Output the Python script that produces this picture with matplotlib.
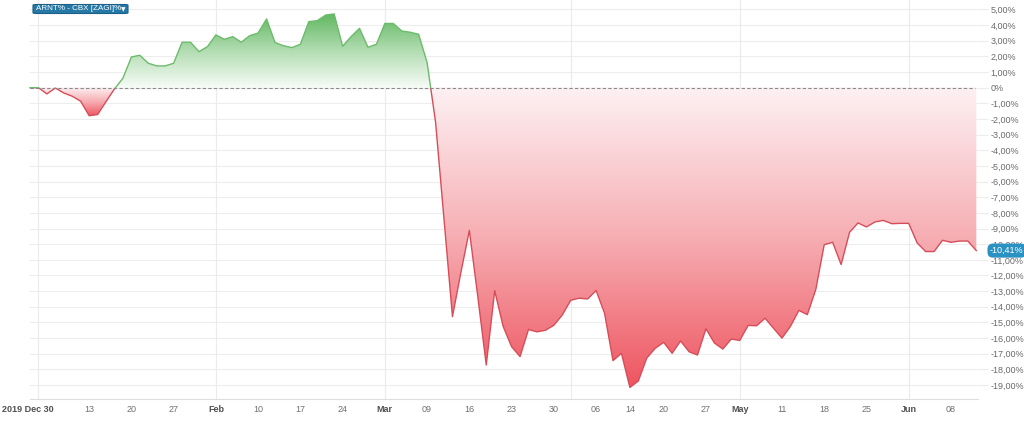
import numpy as np
import matplotlib
matplotlib.use("Agg")
import matplotlib.pyplot as plt
from matplotlib.patches import PathPatch, Rectangle, FancyBboxPatch
from matplotlib.path import Path
from matplotlib.colors import LinearSegmentedColormap
import matplotlib.transforms as mtransforms

plt.rcParams['font.family'] = ['Liberation Sans', 'DejaVu Sans']

# ---- data (relative performance, %) one value per trading day from 2020-01-02 ----
values = [
    0.00, 0.00, -0.40, -0.02, -0.34, -0.55, -0.87, -1.79, -1.72, -0.89,
    -0.08, 0.60, 1.96, 2.07, 1.56, 1.39, 1.39, 1.56, 2.90, 2.90,
    2.30, 2.62, 3.37, 3.09, 3.26, 2.90, 3.32, 3.49, 4.39, 2.88,
    2.68, 2.56, 2.77, 4.22, 4.28, 4.64, 4.71, 2.64, 3.26, 3.79,
    2.58, 2.77, 4.10, 4.10, 3.62, 3.54, 3.41, 1.60, -2.20, -8.40,
    -14.63, -11.80, -9.12, -13.35, -17.72, -12.97, -15.25, -16.55, -17.18, -15.45,
    -15.60, -15.50, -15.18, -14.52, -13.58, -13.45, -13.50, -12.96, -14.40, -17.44,
    -16.97, -19.15, -18.74, -17.27, -16.65, -16.27, -16.97, -16.18, -16.87, -17.08,
    -15.40, -16.31, -16.70, -16.06, -16.15, -15.19, -15.21, -14.73, -15.37, -16.00,
    -15.25, -14.23, -14.50, -12.90, -10.03, -9.88, -11.30, -9.24, -8.64, -8.90,
    -8.58, -8.48, -8.69, -8.67, -8.67, -9.92, -10.47, -10.47, -9.75, -9.88,
    -9.80, -9.80, -10.41,
]
tick_idx = [7, 12, 17, 22, 27, 32, 37, 42, 47, 52, 57, 62, 67, 71, 75, 80, 84, 89, 94, 99, 104, 109]
tick_labels = ["13", "20", "27", "Feb", "10", "17", "24", "Mar", "09", "16", "23", "30",
               "06", "14", "20", "27", "May", "11", "18", "25", "Jun", "08"]
bold_labels = ["Feb", "Mar", "May", "Jun"]
first_label = "2019 Dec 30"
month_lines = [1, 22, 42, 64, 84, 104]
yticks = list(range(5, -20, -1))
series_label = "ARNT% - CBX [ZAGI]%"
last_label = "-10,41%"

W, H = 1024, 422
fig = plt.figure(figsize=(W / 100, H / 100), dpi=100)
ax = fig.add_axes([30 / W, 23 / H, 948 / W, 399 / H])
x = np.arange(len(values))
y = np.array(values)
XMAX = 112.2
YLIM = (-19.89, 5.6)

# grid
for t in yticks:
    ax.axhline(t, color='#ededed', lw=0.8, zorder=0)
for m in month_lines:
    ax.axvline(m, color='#ebebeb', lw=0.8, zorder=0)

gcm = LinearSegmentedColormap.from_list('g', ['#f7fcf7', '#b3ddb3', '#62b862'])
rcm = LinearSegmentedColormap.from_list('r', ['#fdf1f3', '#f6aeb3', '#ee5560'])
grad = np.linspace(0, 1, 256).reshape(-1, 1)


def runs(mask):
    out, start = [], None
    for i, m in enumerate(mask):
        if m and start is None:
            start = i
        if not m and start is not None:
            out.append((start, i - 1))
            start = None
    if start is not None:
        out.append((start, len(mask) - 1))
    return out


def add_region(i0, i1, positive):
    a = max(i0 - 1, 0)
    b = min(i1 + 1, len(y) - 1)
    xs, ys = x[a:b + 1], y[a:b + 1]
    if positive:
        coll = ax.fill_between(xs, ys, 0, where=ys >= 0, interpolate=True,
                               facecolor='none', edgecolor='none')
    else:
        coll = ax.fill_between(xs, ys, 0, where=ys <= 0, interpolate=True,
                               facecolor='none', edgecolor='none')
    paths = coll.get_paths()
    if not paths:
        return
    path = Path.make_compound_path(*paths)
    p = PathPatch(path, transform=ax.transData, facecolor='none', edgecolor='none')
    ax.add_patch(p)
    seg = y[i0:i1 + 1]
    if positive:
        im = ax.imshow(grad, cmap=gcm, origin='lower', aspect='auto',
                       extent=[0, XMAX, 0, seg.max()], zorder=1)
    else:
        im = ax.imshow(grad[::-1], cmap=rcm, origin='lower', aspect='auto',
                       extent=[0, XMAX, seg.min(), 0], zorder=1)
    im.set_clip_path(p)


for i0, i1 in runs(y > 0):
    add_region(i0, i1, True)
for i0, i1 in runs(y < 0):
    add_region(i0, i1, False)
ax.set_xlim(0, XMAX)
ax.set_ylim(*YLIM)

# lines split by sign
lg, = ax.plot(x, y, color='#6cbb6c', lw=1.0, zorder=3)
lg.set_clip_path(Rectangle((-10, 0), 200, 50, transform=ax.transData))
lr, = ax.plot(x, y, color='#d64d5a', lw=1.0, zorder=3)
lr.set_clip_path(Rectangle((-10, -50), 200, 50, transform=ax.transData))

# zero line
ax.axhline(0, xmin=0, xmax=(975 - 30) / 948, color='#8a8a8a', lw=0.8,
           ls=(0, (3, 2)), zorder=4)

# spines
for s in ['top', 'left', 'right']:
    ax.spines[s].set_visible(False)
ax.spines['bottom'].set_color('#dedede')
ax.spines['bottom'].set_linewidth(0.8)

# y axis
ax.yaxis.tick_right()
ax.set_yticks(yticks)
ax.set_yticklabels(["0%" if t == 0 else f"{t:.2f}".replace('.', ',') + "%" for t in yticks])
ax.tick_params(axis='y', length=7, color='#ececec', width=0.8, pad=2,
               labelsize=6.5, labelcolor='#6a6a6a')

# x axis
ax.set_xticks(tick_idx)
ax.set_xticklabels(tick_labels)
ax.tick_params(axis='x', length=0, pad=4, labelsize=6.5, labelcolor='#707070')
for lab in ax.get_xticklabels():
    if lab.get_text() in bold_labels:
        lab.set_fontweight('bold')
        lab.set_color('#505050')
fig.text(2 / W, 1 - 404.5 / H, first_label, ha='left', va='top',
         fontsize=6.5, fontweight='bold', color='#505050')

# series label box (top-left)
box = FancyBboxPatch((33 / W, 1 - 13.5 / H), 95 / W, 9 / H,
                     boxstyle='round,pad=0,rounding_size=0.004',
                     transform=fig.transFigure, facecolor='#2679a6',
                     edgecolor='#1b5e86', lw=0.8, mutation_aspect=H / W)
fig.add_artist(box)
fig.text(36 / W, 1 - 9 / H, series_label, color='white', fontsize=5.8,
         ha='left', va='center')
fig.text(123 / W, 1 - 9.3 / H, "\u25BC", color='white', fontsize=4.2,
         ha='center', va='center', family=['DejaVu Sans'])

# last value badge
rtrans = mtransforms.blended_transform_factory(ax.transAxes, ax.transData)
ax.text((990 - 30) / 948, values[-1], last_label, transform=rtrans, ha='left', va='center',
        fontsize=6.5, color='white', clip_on=False, zorder=10,
        bbox=dict(boxstyle='round,pad=0.28,rounding_size=0.6', facecolor='#2a92c2',
                  edgecolor='none'))

fig.savefig('out.png', dpi=100)
